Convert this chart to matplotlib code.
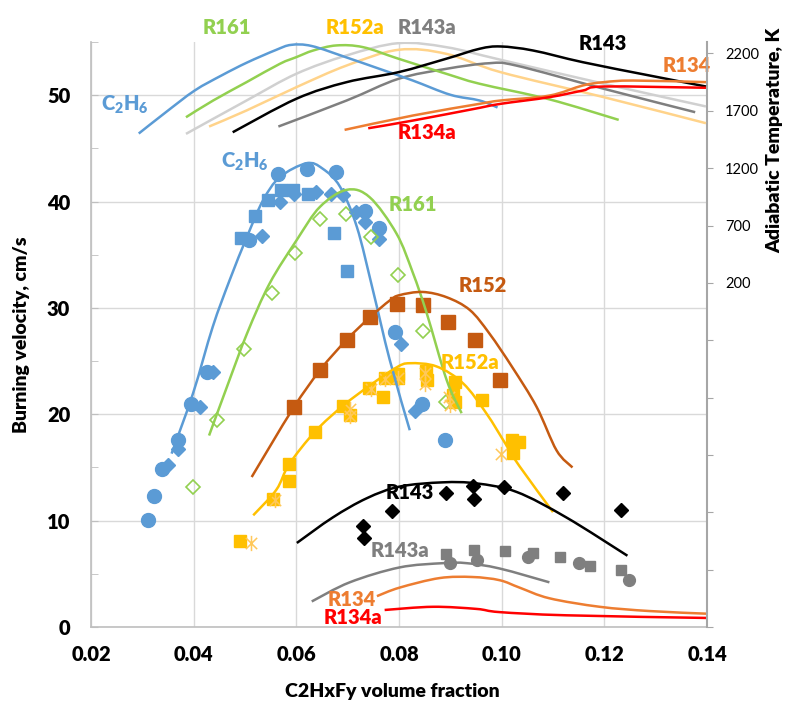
import numpy as np
import matplotlib
matplotlib.use("Agg")
import matplotlib.pyplot as plt
from matplotlib.path import Path
from matplotlib.patches import PathPatch
from matplotlib.ticker import MultipleLocator, FixedLocator, FuncFormatter

plt.rcParams['font.family'] = ['Lato', 'DejaVu Sans']
plt.rcParams['mathtext.fontset'] = 'custom'
plt.rcParams['mathtext.rm'] = 'Lato:heavy'
plt.rcParams['mathtext.it'] = 'Lato:heavy'
plt.rcParams['mathtext.bf'] = 'Lato:heavy'
plt.rcParams['mathtext.default'] = 'rm'

# ---------------- adiabatic temperature curves (right axis) ----------------
t_c2h6_x = [0.0293, 0.0345, 0.0402, 0.0455, 0.0504, 0.0560, 0.0590, 0.0630, 0.0698, 0.0760, 0.0827, 0.0900, 0.0957, 0.0992]
t_c2h6_y = [1502, 1685, 1877, 2010, 2121, 2230, 2275, 2265, 2165, 2069, 1964, 1840, 1790, 1729]
t_r161_x = [0.0385, 0.0438, 0.0503, 0.0568, 0.0600, 0.0633, 0.0678, 0.0730, 0.0799, 0.0892, 0.0957, 0.1093, 0.1228]
t_r161_y = [1644, 1790, 1950, 2110, 2168, 2226, 2270, 2255, 2154, 2023, 1936, 1800, 1621]
t_lgray_x = [0.0385, 0.0503, 0.0600, 0.0698, 0.0799, 0.0892, 0.0998, 0.1199, 0.1398]
t_lgray_y = [1499, 1790, 2023, 2183, 2290, 2255, 2145, 1936, 1738]
t_lorange_x = [0.0430, 0.0503, 0.0600, 0.0698, 0.0799, 0.0892, 0.0998, 0.1199, 0.1398]
t_lorange_y = [1563, 1703, 1906, 2095, 2232, 2197, 2037, 1819, 1592]
t_r143_x = [0.0476, 0.0600, 0.0698, 0.0799, 0.0892, 0.0957, 0.0998, 0.1061, 0.1158, 0.1288, 0.1398]
t_r143_y = [1513, 1805, 1950, 2037, 2154, 2241, 2261, 2226, 2124, 2008, 1912]
t_r143a_x = [0.0565, 0.0698, 0.0799, 0.0892, 0.0976, 0.1028, 0.1199, 0.1377]
t_r143a_y = [1563, 1790, 1979, 2066, 2115, 2095, 1892, 1688]
t_r134_x = [0.0694, 0.0827, 0.0957, 0.0998, 0.1093, 0.1158, 0.1199, 0.1256, 0.1398]
t_r134_y = [1534, 1659, 1761, 1790, 1833, 1921, 1950, 1964, 1950]
t_r134a_x = [0.0740, 0.0827, 0.0957, 0.0998, 0.1093, 0.1158, 0.1199, 0.1398]
t_r134a_y = [1548, 1615, 1726, 1761, 1819, 1877, 1912, 1901]

# ---------------- burning velocity model curves (left axis) ----------------
c_c2h6_x = [0.0357, 0.0399, 0.0437, 0.0470, 0.0504, 0.0535, 0.0568, 0.0620, 0.0651, 0.0685, 0.0718, 0.0749, 0.0782, 0.0821]
c_c2h6_y = [16.3, 22.0, 28.2, 32.6, 36.7, 40.1, 42.3, 43.6, 43.1, 41.4, 37.6, 31.7, 25.1, 18.5]
c_r161_x = [0.0430, 0.0465, 0.0504, 0.0548, 0.0601, 0.0646, 0.0698, 0.0743, 0.0795, 0.0827, 0.0854, 0.0893, 0.0922]
c_r161_y = [18.0, 22.6, 27.6, 32.3, 36.4, 39.5, 41.1, 40.4, 37.0, 33.3, 29.5, 23.2, 20.1]
c_r152_x = [0.0513, 0.0593, 0.0647, 0.0698, 0.0743, 0.0782, 0.0801, 0.0846, 0.0893, 0.0938, 0.0976, 0.1021, 0.1068, 0.1107, 0.1138]
c_r152_y = [14.1, 20.5, 24.2, 27.0, 29.1, 30.7, 31.2, 31.5, 31.0, 29.8, 27.6, 24.4, 20.7, 16.6, 15.0]
c_r152a_x = [0.0516, 0.0561, 0.0586, 0.0637, 0.0691, 0.0743, 0.0795, 0.0821, 0.0873, 0.0925, 0.0970, 0.1009, 0.1035, 0.1100]
c_r152a_y = [10.5, 12.9, 15.3, 18.4, 20.8, 22.7, 24.4, 24.8, 24.5, 22.9, 20.1, 17.1, 15.1, 10.8]
c_r143_x = [0.0601, 0.0671, 0.0737, 0.0801, 0.0885, 0.0951, 0.1029, 0.1126, 0.1245]
c_r143_y = [7.9, 10.3, 12.1, 13.2, 13.6, 13.5, 12.7, 10.3, 6.7]
c_r143a_x = [0.0630, 0.0704, 0.0801, 0.0885, 0.0932, 0.0996, 0.1093]
c_r143a_y = [2.4, 4.2, 5.6, 6.0, 6.0, 5.5, 4.2]
c_r134_x = [0.0757, 0.0801, 0.0879, 0.0943, 0.0996, 0.1035, 0.1093, 0.1191, 0.1288, 0.1400]
c_r134_y = [2.9, 3.7, 4.6, 4.7, 4.4, 3.7, 2.7, 1.9, 1.5, 1.25]
c_r134a_x = [0.0772, 0.0866, 0.0951, 0.0996, 0.1126, 0.1400]
c_r134a_y = [1.6, 1.9, 1.7, 1.4, 1.1, 0.85]

# ---------------- measured burning velocities ----------------
c2h6_circ_x = [0.0312, 0.0323, 0.0339, 0.0369, 0.0395, 0.0425, 0.0508, 0.0565, 0.0620, 0.0678, 0.0733, 0.0762, 0.0792, 0.0845, 0.0889]
c2h6_circ_y = [10.1, 12.3, 14.9, 17.6, 21.0, 24.0, 36.4, 42.6, 43.1, 42.8, 39.1, 37.5, 27.7, 21.0, 17.6]
c2h6_sq_x = [0.0493, 0.0519, 0.0545, 0.0571, 0.0594, 0.0623, 0.0673, 0.0698]
c2h6_sq_y = [36.6, 38.6, 40.1, 41.1, 41.1, 40.7, 37.0, 33.5]
c2h6_dia_x = [0.0350, 0.0370, 0.0412, 0.0437, 0.0533, 0.0568, 0.0595, 0.0638, 0.0668, 0.0691, 0.0717, 0.0733, 0.0762, 0.0803, 0.0832]
c2h6_dia_y = [15.2, 16.7, 20.7, 24.0, 36.8, 40.0, 40.7, 40.9, 40.7, 40.6, 39.0, 38.1, 36.5, 26.6, 20.3]
r161_x = [0.0399, 0.0446, 0.0498, 0.0552, 0.0597, 0.0647, 0.0696, 0.0745, 0.0798, 0.0847, 0.0892]
r161_y = [13.2, 19.5, 26.1, 31.4, 35.2, 38.4, 38.8, 36.7, 33.1, 27.8, 21.2]
r152_x = [0.0596, 0.0647, 0.0698, 0.0744, 0.0796, 0.0847, 0.0896, 0.0949, 0.0996]
r152_y = [20.7, 24.2, 27.0, 29.1, 30.4, 30.3, 28.7, 27.0, 23.2]
r152a_sq_x = [0.0490, 0.0555, 0.0586, 0.0586, 0.0637, 0.0691, 0.0704, 0.0742, 0.0769, 0.0772, 0.0798, 0.0798,
              0.0852, 0.0854, 0.0910, 0.0906, 0.0910, 0.0962, 0.1021, 0.1033, 0.1023]
r152a_sq_y = [8.1, 12.0, 13.7, 15.3, 18.3, 20.8, 19.9, 22.5, 21.6, 23.4, 23.8, 23.4,
              24.1, 23.2, 23.0, 21.8, 21.2, 21.3, 17.6, 17.4, 16.4]
r152a_st_x = [0.0511, 0.0558, 0.0704, 0.0705, 0.0746, 0.0772, 0.0798, 0.0851, 0.0851, 0.0897, 0.0899, 0.0999]
r152a_st_y = [7.9, 11.9, 20.5, 19.8, 22.4, 23.3, 23.4, 23.9, 22.8, 21.6, 20.9, 16.3]
r143_x = [0.0730, 0.0732, 0.0786, 0.0891, 0.0945, 0.0947, 0.1004, 0.1119, 0.1233]
r143_y = [9.5, 8.4, 10.9, 12.6, 13.3, 12.0, 13.2, 12.6, 11.0]
r143a_sq_x = [0.0892, 0.0947, 0.1006, 0.1061, 0.1113, 0.1172, 0.1233]
r143a_sq_y = [6.9, 7.2, 7.1, 7.0, 6.6, 5.7, 5.4]
r143a_circ_x = [0.0900, 0.0952, 0.1051, 0.1150, 0.1249]
r143a_circ_y = [6.0, 6.3, 6.6, 6.0, 4.4]

x_ticks = [0.02, 0.04, 0.06, 0.08, 0.10, 0.12, 0.14]
x_tick_labels = ['0.02', '0.04', '0.06', '0.08', '0.10', '0.12', '0.14']
left_ticks = [0, 10, 20, 30, 40, 50]
right_ticks = [-2800, -2300, -1800, -1300, -800, -300, 200, 700, 1200, 1700, 2200]

BLUE = '#5B9BD5'
GREEN = '#92D050'
GOLD = '#FFC000'
GOLD_STAR = '#FFC85A'
BROWN = '#C55A11'
GRAY = '#7F7F7F'
ORANGE = '#ED7D31'
RED = '#FF0000'
LGRAY = '#D0D0D0'
LORANGE = '#FFD38A'
AXCOL = '#BFBFBF'
GRIDCOL = '#D9D9D9'
WEIGHT = 'heavy'

W, H = 791, 710
fig = plt.figure(figsize=(W / 100, H / 100), dpi=100)
L, R, T, B = 91, 707, 42, 627
ax = fig.add_axes([L / W, 1 - B / H, (R - L) / W, (B - T) / H])
ax2 = ax.twinx()

ax.set_xlim(0.02, 0.14)
ax.set_ylim(0, 55)
ax2.set_ylim(-2800, 2300)

ax.set_xticks(x_ticks)
ax.set_xticklabels(x_tick_labels)
ax.yaxis.set_major_locator(FixedLocator(left_ticks))
ax.yaxis.set_minor_locator(MultipleLocator(5))
ax.grid(True, which='major', color=GRIDCOL, lw=1.0)
ax.set_axisbelow(True)

for s in ['top', 'right']:
    ax.spines[s].set_visible(False)
for s in ['left', 'bottom']:
    ax.spines[s].set_color(AXCOL)
    ax.spines[s].set_linewidth(1.2)
for s in ['top', 'left', 'bottom']:
    ax2.spines[s].set_visible(False)
ax2.spines['right'].set_color('#A6A6A6')
ax2.spines['right'].set_linewidth(1.5)

ax.tick_params(axis='x', length=0, pad=13, labelsize=14.5)
ax.tick_params(axis='y', which='both', direction='in', length=5, color=AXCOL, pad=15, labelsize=14.5)
for lab_ in ax.get_xticklabels() + ax.get_yticklabels():
    lab_.set_fontweight(WEIGHT)

ax2.yaxis.set_major_locator(FixedLocator(right_ticks))
ax2.yaxis.set_major_formatter(FuncFormatter(lambda v, p: f"{int(v)}" if v >= 0 else ""))
ax2.tick_params(axis='y', direction='out', length=4, color='#A6A6A6', pad=9, labelsize=10.5)


def smooth(axis, xs, ys, color, lw=1.8, z=3):
    """Excel-like smoothed line: cubic Bezier segments through the read points."""
    p = np.column_stack([xs, ys]).astype(float)
    n = len(p)
    verts = [tuple(p[0])]
    codes = [Path.MOVETO]
    for i in range(n - 1):
        p0 = p[i - 1] if i > 0 else p[i]
        p1 = p[i]
        p2 = p[i + 1]
        p3 = p[i + 2] if i + 2 < n else p[i + 1]
        c1 = p1 + (p2 - p0) / 6.0
        c2 = p2 - (p3 - p1) / 6.0
        verts += [tuple(c1), tuple(c2), tuple(p2)]
        codes += [Path.CURVE4] * 3
    patch = PathPatch(Path(verts, codes), facecolor='none', edgecolor=color, lw=lw,
                      transform=axis.transData, zorder=z, capstyle='butt')
    axis.add_patch(patch)


# temperature curves
smooth(ax2, t_lgray_x, t_lgray_y, LGRAY)
smooth(ax2, t_lorange_x, t_lorange_y, LORANGE)
smooth(ax2, t_r143a_x, t_r143a_y, GRAY)
smooth(ax2, t_r161_x, t_r161_y, GREEN)
smooth(ax2, t_c2h6_x, t_c2h6_y, BLUE)
smooth(ax2, t_r143_x, t_r143_y, 'black')
smooth(ax2, t_r134_x, t_r134_y, ORANGE)
smooth(ax2, t_r134a_x, t_r134a_y, RED)

# measured points
star = Path([(-1, -1), (1, 1), (-1, 1), (1, -1), (0, -1.35), (0, 1.35)],
            [Path.MOVETO, Path.LINETO, Path.MOVETO, Path.LINETO, Path.MOVETO, Path.LINETO])

ax.plot(c2h6_circ_x, c2h6_circ_y, 'o', color=BLUE, ms=10, mec=BLUE)
ax.plot(c2h6_sq_x, c2h6_sq_y, 's', color=BLUE, ms=8.5, mec=BLUE)
ax.plot(c2h6_dia_x, c2h6_dia_y, 'D', color=BLUE, ms=7.5, mec=BLUE)
ax.plot(r161_x, r161_y, 'D', mfc='none', mec=GREEN, ms=7.5, mew=1.2)
ax.plot(r152_x, r152_y, 's', color=BROWN, ms=9.5, mec=BROWN)
ax.plot(r152a_sq_x, r152a_sq_y, 's', color=GOLD, ms=8, mec=GOLD)
ax.plot(r152a_st_x, r152a_st_y, marker=star, ls='none', mfc='none', mec=GOLD_STAR, ms=11, mew=1.1)
ax.plot(r143_x, r143_y, 'D', color='black', ms=7.5)
ax.plot(r143a_sq_x, r143a_sq_y, 's', color=GRAY, ms=6.5, mec=GRAY)
ax.plot(r143a_circ_x, r143a_circ_y, 'o', color=GRAY, ms=8.5, mec=GRAY)

# model curves
smooth(ax, c_c2h6_x, c_c2h6_y, BLUE)
smooth(ax, c_r161_x, c_r161_y, GREEN)
smooth(ax, c_r152_x, c_r152_y, BROWN)
smooth(ax, c_r152a_x, c_r152a_y, GOLD)
smooth(ax, c_r143_x, c_r143_y, 'black')
smooth(ax, c_r143a_x, c_r143a_y, GRAY)
smooth(ax, c_r134_x, c_r134_y, ORANGE)
smooth(ax, c_r134a_x, c_r134a_y, RED)

# series labels
fs = 14.5
def lab(x, y, s, c):
    ax.text(x, y, s, color=c, fontsize=fs, fontweight=WEIGHT, ha='center', va='center',
            clip_on=False, zorder=6)

c2h6 = r'C$_{2}$H$_{6}$'
lab(0.0465, 56.4, 'R161', GREEN)
lab(0.0714, 56.4, 'R152a', GOLD)
lab(0.0854, 56.4, 'R143a', GRAY)
lab(0.1196, 54.9, 'R143', 'black')
lab(0.1360, 52.8, 'R134', ORANGE)
lab(0.0266, 49.1, c2h6, BLUE)
lab(0.0854, 46.5, 'R134a', RED)
lab(0.0500, 43.7, c2h6, BLUE)
lab(0.0827, 39.7, 'R161', GREEN)
lab(0.0963, 32.1, 'R152', BROWN)
lab(0.0938, 24.9, 'R152a', GOLD)
lab(0.0821, 12.6, 'R143', 'black')
lab(0.0801, 7.2, 'R143a', GRAY)
lab(0.0708, 2.6, 'R134', ORANGE)
lab(0.0710, 0.9, 'R134a', RED)

# axis titles
fig.text(392 / W, 1 - 691 / H, 'C2HxFy volume fraction', fontsize=14, fontweight=WEIGHT,
         ha='center', va='center')
fig.text(22 / W, 1 - 335 / H, 'Burning velocity, cm/s', fontsize=14, fontweight=WEIGHT,
         ha='center', va='center', rotation=90)
fig.text(775 / W, 1 - 140 / H, 'Adiabatic Temperature, K', fontsize=14, fontweight=WEIGHT,
         ha='center', va='center', rotation=90)

fig.savefig('out.png', dpi=100)
